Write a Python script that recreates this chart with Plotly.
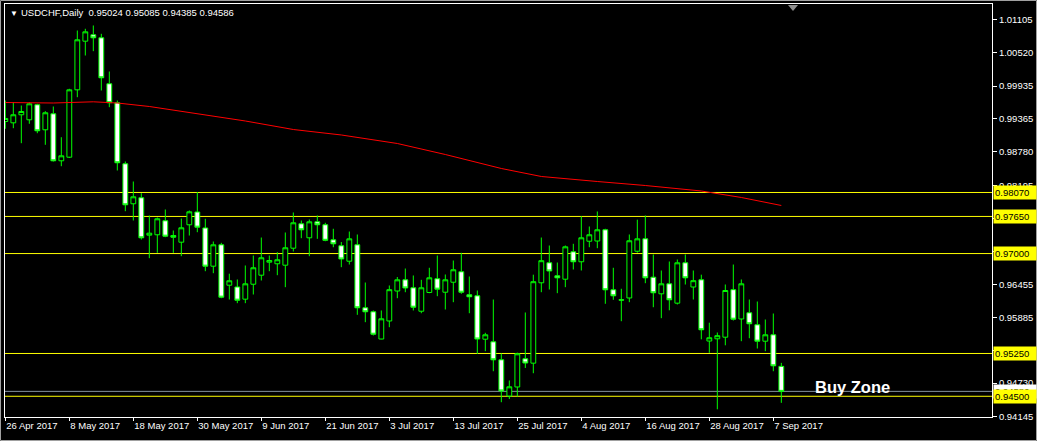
import pandas as pd
import plotly.graph_objects as go

# ---------------- data ----------------
dates = [d.strftime("%Y-%m-%d") for d in pd.bdate_range("2017-04-26", "2017-09-08")]

open_ = [0.99313, 0.99290, 0.99431, 0.99343, 0.99606, 0.99168, 0.99448, 0.98625, 0.98688, 0.99868,
         1.00720, 1.00832, 1.00779, 0.99974, 0.99641, 0.98572, 0.97872, 0.97977, 0.97322, 0.97329,
         0.97574, 0.97316, 0.97199, 0.97504, 0.97728, 0.97448, 0.96779, 0.97153, 0.96446, 0.96414,
         0.96201, 0.96463, 0.96621, 0.96849, 0.96821, 0.96796, 0.97094, 0.97521, 0.97276, 0.97556,
         0.97504, 0.97241, 0.97136, 0.96866, 0.97153, 0.96050, 0.95980, 0.95503, 0.95819, 0.96344,
         0.96540, 0.96400, 0.95990, 0.96318, 0.96558, 0.96323, 0.96498, 0.96681, 0.96278, 0.96260,
         0.95500, 0.95454, 0.95139, 0.94505, 0.94663, 0.95157, 0.95080, 0.96488, 0.96838, 0.96610,
         0.96551, 0.97031, 0.96856, 0.97216, 0.97220, 0.97416, 0.96365, 0.96190, 0.96222, 0.97041,
         0.97258, 0.96586, 0.96295, 0.96470, 0.96131, 0.96838, 0.96414, 0.96540, 0.95468, 0.95507,
         0.95535, 0.96367, 0.95854, 0.95962, 0.95752, 0.95465, 0.95577, 0.95024]
high = [0.99681, 0.99651, 0.99593, 0.99651, 0.99623, 0.99494, 0.99576, 0.99038, 0.99886, 1.00907,
        1.00937, 1.00995, 1.00849, 1.00189, 0.99681, 0.98613, 0.98262, 0.98057, 0.97667, 0.97632,
        0.97772, 0.97404, 0.97614, 0.97754, 0.98078, 0.97609, 0.97211, 0.97188, 0.96647, 0.96546,
        0.96791, 0.96966, 0.97281, 0.96966, 0.97024, 0.97369, 0.97719, 0.97579, 0.97597, 0.97667,
        0.97539, 0.97434, 0.97202, 0.97386, 0.97334, 0.96493, 0.96003, 0.96003, 0.96441, 0.96589,
        0.96738, 0.96616, 0.96540, 0.96751, 0.96966, 0.96633, 0.96878, 0.97013, 0.96598, 0.96353,
        0.95612, 0.96195, 0.95250, 0.94777, 0.95264, 0.95968, 0.96630, 0.97281, 0.97141, 0.96843,
        0.97141, 0.97171, 0.97654, 0.97474, 0.97737, 0.97434, 0.96751, 0.96383, 0.97334, 0.97593,
        0.97667, 0.96984, 0.96703, 0.96861, 0.96896, 0.96984, 0.96703, 0.96630, 0.95789, 0.95617,
        0.96458, 0.96808, 0.96546, 0.96195, 0.96160, 0.95845, 0.95950, 0.95085]
low = [0.99185, 0.99196, 0.98933, 0.99273, 0.99108, 0.98905, 0.98612, 0.98530, 0.98674, 0.99739,
       1.00469, 1.00545, 0.99856, 0.99564, 0.98455, 0.97742, 0.97579, 0.97246, 0.96919, 0.97013,
       0.97287, 0.97013, 0.96954, 0.97316, 0.97374, 0.96691, 0.96656, 0.96218, 0.96195, 0.96131,
       0.96131, 0.96283, 0.96528, 0.96691, 0.96621, 0.96411, 0.97036, 0.97269, 0.96954, 0.97258,
       0.97216, 0.97111, 0.96761, 0.96808, 0.95927, 0.95798, 0.95565, 0.95500, 0.95710, 0.96218,
       0.96323, 0.96003, 0.95955, 0.96306, 0.96253, 0.96020, 0.96148, 0.96295, 0.95955, 0.95241,
       0.95290, 0.94939, 0.94396, 0.94452, 0.94496, 0.94996, 0.94904, 0.96323, 0.96370, 0.96306,
       0.96411, 0.96721, 0.96703, 0.97111, 0.97094, 0.96120, 0.96190, 0.95815, 0.96148, 0.97015,
       0.96481, 0.96060, 0.95868, 0.96006, 0.96108, 0.96458, 0.96195, 0.95498, 0.95262, 0.94272,
       0.95393, 0.95827, 0.95465, 0.95517, 0.95337, 0.95290, 0.94939, 0.94385]
close = [0.99366, 0.99431, 0.99488, 0.99623, 0.99150, 0.99466, 0.98625, 0.98712, 0.99868, 1.00744,
         1.00884, 1.00779, 1.00079, 0.99641, 0.98590, 0.97854, 0.97994, 0.97276, 0.97357, 0.97609,
         0.97304, 0.97287, 0.97451, 0.97731, 0.97462, 0.96779, 0.97153, 0.96236, 0.96523, 0.96183,
         0.96470, 0.96751, 0.96926, 0.96878, 0.96891, 0.97101, 0.97539, 0.97416, 0.97556, 0.97504,
         0.97232, 0.97171, 0.96905, 0.97258, 0.96050, 0.95980, 0.95587, 0.95857, 0.96367, 0.96540,
         0.96397, 0.96060, 0.96400, 0.96575, 0.96376, 0.96540, 0.96716, 0.96323, 0.96243, 0.95503,
         0.95577, 0.95139, 0.94593, 0.94666, 0.95244, 0.95083, 0.96507, 0.96875, 0.96695, 0.96575,
         0.97118, 0.96856, 0.97276, 0.97329, 0.97416, 0.96365, 0.96260, 0.96185, 0.97224, 0.97258,
         0.96575, 0.96313, 0.96470, 0.96190, 0.96838, 0.96575, 0.96525, 0.95665, 0.95525, 0.95561,
         0.96353, 0.95850, 0.96470, 0.95770, 0.95465, 0.95577, 0.95034, 0.94586]

# moving average (red line), read at selected bars
ma_bar = [0, 6, 11, 14, 18, 24, 30, 36, 42, 49, 55, 62, 67, 74, 80, 87, 92, 97]
ma_val = [0.99646, 0.99637, 0.99658, 0.99637, 0.99576, 0.99453, 0.99322, 0.99173, 0.99077, 0.98928,
          0.98735, 0.98490, 0.98350, 0.98262, 0.98192, 0.98096, 0.97982, 0.97842]

levels = [0.98070, 0.97650, 0.97000, 0.95250, 0.94500]
bid = 0.94586

y_ticks = [1.01105, 1.00520, 0.99935, 0.99365, 0.98780, 0.98195, 0.97610, 0.97040,
           0.96455, 0.95885, 0.95300, 0.94730, 0.94145]
x_tick_dates = ["2017-04-26", "2017-05-08", "2017-05-18", "2017-05-30", "2017-06-09", "2017-06-21",
                "2017-07-03", "2017-07-13", "2017-07-25", "2017-08-04", "2017-08-16", "2017-08-28",
                "2017-09-07"]
x_tick_text = ["26 Apr 2017", "8 May 2017", "18 May 2017", "30 May 2017", "9 Jun 2017", "21 Jun 2017",
               "3 Jul 2017", "13 Jul 2017", "25 Jul 2017", "4 Aug 2017", "16 Aug 2017", "28 Aug 2017",
               "7 Sep 2017"]

title_text = "USDCHF,Daily  0.95024 0.95085 0.94385 0.94586"

# ---------------- figure ----------------
W, H = 1037, 441
ML, MR, MT, MB = 5, 45, 4, 24
PW, PH = W - ML - MR, H - MT - MB
FONT = "Liberation Sans, Arial, sans-serif"
K = 0.00017516                    # price per pixel of the price scale
Y_TOP = 1.013625 + 0.5 * K        # price at the top edge of the plot
Y_BOT = Y_TOP - PH * K


def px_x(px):
    return (px - ML) / PW


def px_y(py):
    return (H - MB - py) / PH


fig = go.Figure()

fig.add_trace(go.Candlestick(
    x=dates, open=open_, high=high, low=low, close=close,
    increasing=dict(line=dict(color="#00FF00", width=1), fillcolor="#000000"),
    decreasing=dict(line=dict(color="#00FF00", width=1), fillcolor="#FFFFFF"),
    whiskerwidth=0, showlegend=False, hoverinfo="skip",
))

fig.add_trace(go.Scatter(
    x=[dates[i] for i in ma_bar], y=ma_val, mode="lines",
    line=dict(color="#FF0000", width=1), showlegend=False, hoverinfo="skip",
))

shapes = []
for v in levels:
    shapes.append(dict(type="line", xref="paper", yref="y", x0=0, x1=1, y0=v, y1=v,
                       line=dict(color="#FFFF00", width=1), layer="below"))
shapes.append(dict(type="line", xref="paper", yref="y", x0=0, x1=1, y0=bid, y1=bid,
                   line=dict(color="#8592A0", width=1), layer="below"))
# chart-shift marker
shapes.append(dict(type="path", xref="paper", yref="paper",
                   path=f"M {px_x(788)},{px_y(5)} L {px_x(798)},{px_y(5)} L {px_x(793)},{px_y(11)} Z",
                   fillcolor="#909090", line=dict(color="#909090", width=0)))
# window frame
shapes.append(dict(type="rect", xref="paper", yref="paper",
                   x0=px_x(0.5), x1=px_x(1036.5), y0=px_y(440.5), y1=px_y(0.5),
                   line=dict(color="#A0A0A0", width=1), fillcolor="rgba(0,0,0,0)", layer="above"))

annotations = []
annotations.append(dict(xref="paper", yref="paper", x=px_x(8), y=px_y(7), xanchor="left", yanchor="top",
                        text="▼", showarrow=False, font=dict(family=FONT, size=8, color="white")))
annotations.append(dict(xref="paper", yref="paper", x=px_x(19), y=px_y(5), xanchor="left", yanchor="top",
                        text=title_text, showarrow=False, font=dict(family=FONT, size=9.5, color="white")))
# bid label (white) under the level boxes
annotations.append(dict(xref="paper", yref="y", x=1, y=bid, xanchor="left", yanchor="middle", xshift=1,
                        text=f"{bid:.5f}", showarrow=False, bgcolor="white", borderpad=1, width=40,
                        align="left", font=dict(family=FONT, size=9.5, color="black")))
for v in levels:
    annotations.append(dict(xref="paper", yref="y", x=1, y=v, xanchor="left", yanchor="middle", xshift=1,
                            text=f"{v:.5f}", showarrow=False, bgcolor="#FFFF00", borderpad=1, width=40,
                            align="left", font=dict(family=FONT, size=9.5, color="black")))
annotations.append(dict(xref="paper", yref="y", x=px_x(852), y=0.94663, xanchor="center", yanchor="middle",
                        text="<b>Buy Zone</b>", showarrow=False,
                        font=dict(family=FONT, size=16.5, color="white")))

fig.update_layout(
    width=W, height=H,
    margin=dict(l=ML, r=MR, t=MT, b=MB, autoexpand=False),
    paper_bgcolor="#000000", plot_bgcolor="#000000",
    boxgap=0.4, boxgroupgap=0,
    shapes=shapes, annotations=annotations,
    font=dict(family=FONT, size=9.5, color="white"),
    hovermode=False,
    xaxis=dict(type="category", range=[-0.04, -0.04 + PW / 8], rangeslider=dict(visible=False),
               automargin=False,
               tickmode="array", tickvals=x_tick_dates, ticktext=x_tick_text,
               ticks="outside", ticklen=3, tickcolor="white", ticklabelposition="outside right",
               showgrid=False, zeroline=False, showline=True, linecolor="white", linewidth=1, mirror=True,
               tickfont=dict(family=FONT, size=9.5, color="white")),
    yaxis=dict(side="right", range=[Y_BOT, Y_TOP],
               automargin=False,
               tickmode="array", tickvals=y_ticks, ticktext=[f"{t:.5f}" for t in y_ticks],
               ticks="outside", ticklen=4, tickcolor="white",
               showgrid=False, zeroline=False, showline=True, linecolor="white", linewidth=1, mirror=True,
               tickfont=dict(family=FONT, size=9.5, color="white")),
)

fig.write_html("out.html", config={"displayModeBar": False},
               post_script="document.body.style.margin='0';document.body.style.overflow='hidden';")
